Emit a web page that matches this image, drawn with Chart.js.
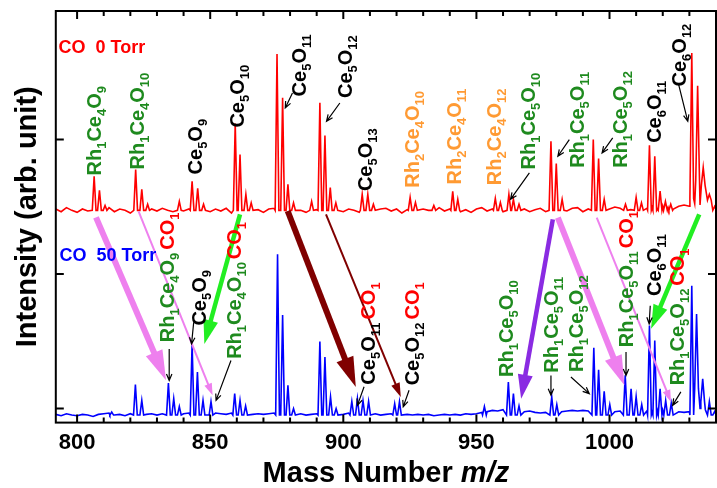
<!DOCTYPE html>
<html>
<head>
<meta charset="utf-8">
<script src="https://cdn.jsdelivr.net/npm/chart.js@4.4.0/dist/chart.umd.min.js"></script>
<style>
  html, body { margin: 0; padding: 0; background: #fff; }
  #wrap { width: 717px; height: 488px; }
</style>
</head>
<body>
<div id="wrap"><canvas id="spec"></canvas></div>
<script>
// axis ranges and ticks
const xMin = 792, xMax = 1040;
const yMin = -0.104, yMax = 2.956;
const xMajorTicks = [800, 850, 900, 950, 1000];
const xMinorTicks = [800, 810, 820, 830, 840, 850, 860, 870, 880, 890, 900, 910, 920, 930, 940, 950, 960, 970, 980, 990, 1000, 1010, 1020, 1030, 1040];
const yTicks = [0, 1, 2];

// baselines of both spectra, sampled every 2 mass units from 792
const baseStart = 792, baseStep = 2;
const redBase = 1.474, blueBase = -0.048;
const redNoise = [
  0.01, -0.01, 0.02, 0, -0.015, 0.01, -0.005, 0.015, -0.01, 0.005,
  0.02, -0.01, 0.01, 0, -0.02, 0.015, 0.005, -0.01, 0.01, -0.005,
  0.015, 0, -0.01, 0.02, -0.005, 0.01, -0.015, 0.005, 0.02, -0.01,
  0.01, -0.005, 0.015, -0.02, 0.01, 0, 0.02, -0.01, 0.005, -0.015,
  0.01, 0.015, -0.005, 0.01, -0.01, 0.02, 0, -0.015, 0.01, 0.005,
  -0.01, 0.015, -0.005, 0.02, -0.01, 0.01, 0, -0.015, 0.02, 0.005,
  -0.01, 0.01, 0.015, -0.005, 0.01, -0.02, 0.005, 0.015, -0.01, 0.01,
  0, -0.01, 0.02, -0.005, 0.01, 0.015, -0.01, 0.005, -0.015, 0.01,
  0.02, -0.005, 0.01, 0, -0.01, 0.015, -0.005, 0.02, 0.01, -0.01,
  0.005, 0.015, -0.01, 0.02, 0, 0.01, -0.005, 0.015, 0.02, -0.01,
  0.01, 0.005, -0.015, 0.02, 0.01, 0.025, 0.015, 0.02, 0.005, 0.01,
  -0.005, 0.015, 0.02, 0.01, 0.03, 0.02, 0.01, 0.03, 0.04, 0.03,
  0.05, 0.04, 0.03, 0.02, 0.01
];
const blueNoise = [
  0.005, -0.005, 0.01, 0, -0.005, 0.005, 0, -0.01, 0.005, 0.01,
  0.015, 0, 0.005, -0.005, 0.01, 0.01, 0, 0.005, 0.01, 0,
  0.01, 0.005, 0.015, 0.02, 0.01, 0.015, 0.02, 0.02, 0.025, 0.02,
  0.015, 0.01, 0.005, 0.015, 0.02, 0.015, 0.01, 0.005, 0.01, 0.005,
  0.01, 0.015, 0.02, 0.02, 0.01, 0.005, 0.01, 0, 0.005, 0.01,
  0.015, 0.01, 0.005, 0.01, 0.005, 0.015, 0.02, 0.01, 0.015, 0.005,
  0.01, 0, 0.005, 0.01, 0.015, 0.01, 0.005, 0, 0.005, 0,
  0.005, -0.005, 0, 0.005, 0, 0.005, 0, 0.01, 0.005, 0.01,
  0.02, 0.025, 0.035, 0.03, 0.04, 0.04, 0.03, 0.035, 0.025, 0.03,
  0.02, 0.015, 0.02, 0.025, 0.02, 0.025, 0.03, 0.035, 0.03, 0.035,
  0.03, 0.02, 0.025, 0.015, 0.02, 0.025, 0.03, 0.025, 0.03, 0.02,
  0.025, 0.03, 0.02, 0.03, 0.035, 0.03, 0.035, 0.025, 0.02, 0.025,
  0.04, 0.05, 0.04, 0.03, 0.02
];

// peaks: [mass, top, optional foot level]
const redPeaks = [
  [806.4, 1.728], [808.4, 1.622], [810.5, 1.51], [822.0, 1.778], [824.3, 1.63], [826.5, 1.52],
  [838.4, 1.541], [843.2, 1.689], [845.3, 1.637], [847.5, 1.52], [859.4, 2.119], [861.2, 1.889],
  [863.4, 1.593], [865.4, 1.53], [875.1, 2.637], [877.2, 2.311], [879.2, 1.667], [881.3, 1.53],
  [888.1, 1.541], [891.2, 2.274], [893.1, 2.03], [895.1, 1.644], [897.2, 1.53], [907.1, 1.593],
  [909.2, 1.593], [911.3, 1.52], [925.1, 1.57], [927.1, 1.533], [934.0, 1.51], [941.1, 1.615],
  [943.0, 1.556], [957.1, 1.563], [959.0, 1.533], [962.2, 1.593], [963.9, 1.556], [966.0, 1.52],
  [978.0, 1.987], [980.0, 1.822], [982.2, 1.556], [993.9, 2.0], [995.9, 1.859], [998.0, 1.556],
  [1006.0, 1.52], [1010.0, 1.57], [1012.0, 1.53], [1015.0, 1.958], [1017.0, 1.876], [1019.0, 1.617],
  [1021.0, 1.54], [1023.0, 1.52], [1030.9, 2.644, 1.56], [1033.1, 2.4, 1.70], [1035.2, 1.793, 1.66],
  [1037.5, 1.593, 1.55], [1039.5, 1.504]
];
const bluePeaks = [
  [813.0, -0.025], [821.9, 0.178], [824.3, 0.061], [834.3, 0.19], [836.3, 0.074], [838.4, 0.015],
  [843.2, 0.481], [845.2, 0.272], [847.3, 0.061], [850.3, 0.052], [859.2, 0.111], [861.2, 0.061],
  [863.3, 0.02], [875.3, 1.148], [877.2, 0.696], [879.2, 0.173], [881.3, 0.0], [891.2, 0.499],
  [893.1, 0.383], [895.2, 0.087], [897.3, 0.0], [903.2, 0.054], [905.3, 0.074], [907.4, 0.059],
  [909.5, 0.054], [919.3, 0.037], [921.1, 0.052], [953.0, 0.015], [962.0, 0.198], [963.9, 0.111],
  [966.0, 0.02], [978.3, 0.087], [980.2, 0.03], [994.1, 0.452], [995.9, 0.289], [998.0, 0.128],
  [1000.1, 0.03], [1005.9, 0.247], [1008.1, 0.148], [1010.0, 0.089], [1012.1, 0.03], [1015.0, 0.617],
  [1017.0, 0.506], [1019.0, 0.148], [1021.1, 0.06], [1023.2, 0.04], [1030.9, 0.913],
  [1032.7, 0.704, 0.15], [1035.0, 0.222, 0.05], [1037.5, 0.052], [1039.5, -0.022]
];

// panel captions: [text, colour key, mass, intensity]
const panelTitles = [
  ['CO  0 Torr', 'red', 793.0, 2.644],
  ['CO  50 Torr', 'blue', 793.4, 1.096]
];

// peak assignments: [formula, colour key, mass, intensity, optional red suffix]
const peakLabels = [
  ['Rh_1Ce_4O_9', 'green', 809.1, 1.733],
  ['Rh_1Ce_4O_10', 'green', 825.3, 1.778],
  ['Ce_5O_9', 'black', 847.0, 1.741],
  ['Ce_5O_10', 'black', 862.8, 2.089],
  ['Ce_5O_11', 'black', 886.0, 2.321],
  ['Ce_5O_12', 'black', 903.2, 2.309],
  ['Ce_5O_13', 'black', 910.8, 1.617],
  ['Rh_2Ce_4O_10', 'orange', 928.6, 1.642],
  ['Rh_2Ce_4O_11', 'orange', 944.3, 1.667],
  ['Rh_2Ce_4O_12', 'orange', 959.3, 1.661],
  ['Rh_1Ce_5O_10', 'green', 972.0, 1.778],
  ['Rh_1Ce_5O_11', 'green', 990.5, 1.790],
  ['Rh_1Ce_5O_12', 'green', 1006.5, 1.790],
  ['Ce_6O_11', 'black', 1019.3, 1.976],
  ['Ce_6O_12', 'black', 1028.7, 2.395],
  ['Rh_1Ce_4O_9', 'green', 836.5, 0.494, 'CO_1'],
  ['Ce_5O_9', 'black', 848.4, 0.617],
  ['Rh_1Ce_4O_10', 'green', 861.6, 0.370, 'CO_1'],
  ['Ce_5O_11', 'black', 912.0, 0.178, 'CO_1'],
  ['Ce_5O_12', 'black', 928.5, 0.173, 'CO_1'],
  ['Rh_1Ce_5O_10', 'green', 963.7, 0.235],
  ['Rh_1Ce_5O_11', 'green', 980.6, 0.267],
  ['Rh_1Ce_5O_12', 'green', 989.9, 0.272],
  ['Rh_1Ce_5O_11', 'green', 1008.7, 0.457, 'CO_1'],
  ['Ce_6O_11', 'black', 1019.3, 0.837],
  ['Rh_1Ce_5O_12', 'green', 1028.0, 0.173, 'CO_1']
];

// small black pointers: [mass from, int from, mass to, int to]
const pointers = [
  [880.9, 2.346, 878.2, 2.235], [898.7, 2.272, 893.7, 2.136], [969.9, 1.753, 962.8, 1.556],
  [984.9, 2.0, 980.6, 1.876], [1001.2, 2.013, 997.2, 1.901], [1026.0, 2.407, 1029.4, 2.136],
  [834.6, 0.444, 834.6, 0.210], [843.8, 0.642, 843.0, 0.481], [857.8, 0.358, 852.2, 0.061],
  [907.8, 0.163, 905.3, 0.024], [924.7, 0.136, 922.5, 0.013], [978.0, 0.247, 978.0, 0.099],
  [985.5, 0.235, 992.4, 0.111], [1006.2, 0.420, 1006.2, 0.247], [1015.3, 0.765, 1014.9, 0.630],
  [1026.8, 0.124, 1023.7, 0.024]
];

// big coloured arrows between the spectra: [mass from, int from, mass to, int to, style]
const shiftArrows = [
  [807.1, 1.422, 833.4, 0.210, 'pinkThick'],
  [823.1, 1.467, 850.9, 0.099, 'pinkThin'],
  [861.2, 1.444, 847.8, 0.481, 'green'],
  [879.1, 1.469, 904.7, 0.161, 'darkThick'],
  [893.5, 1.444, 921.6, 0.087, 'darkThin'],
  [978.7, 1.407, 966.8, 0.074, 'purple'],
  [980.6, 1.420, 1005.6, 0.173, 'pinkThick'],
  [995.2, 1.420, 1023.1, 0.050, 'pinkThin'],
  [1033.7, 1.444, 1015.6, 0.593, 'green']
];

const colors = { red: '#ff0000', blue: '#0000ff', green: '#1e8a1e', orange: '#ff9a33', black: '#000000' };
const arrowStyles = {
  pinkThick: { color: '#ee80ee', width: 6, head: 30, headW: 18 },
  pinkThin: { color: '#ee80ee', width: 2, head: 12, headW: 8 },
  green: { color: '#22ee22', width: 4.5, head: 24, headW: 15 },
  darkThick: { color: '#800000', width: 6, head: 30, headW: 18 },
  darkThin: { color: '#800000', width: 2, head: 14, headW: 9 },
  purple: { color: '#8a2be2', width: 4.5, head: 24, headW: 15 }
};
const FONT = "'Liberation Sans', Arial, sans-serif";

// join baseline samples and peak spikes into one sorted line
function buildTrace(base, noise, peaks) {
  const pts = [];
  noise.forEach((n, i) => {
    const m = baseStart + i * baseStep;
    if (!peaks.some(p => Math.abs(p[0] - m) < 0.9)) pts.push({ x: m, y: base + n });
  });
  peaks.forEach(p => {
    const foot = p.length > 2 ? p[2] : base;
    pts.push({ x: p[0] - 0.7, y: foot }, { x: p[0], y: p[1] }, { x: p[0] + 0.7, y: foot });
  });
  return pts.sort((a, b) => a.x - b.x);
}

function drawFormula(ctx, x, y, parts) {
  ctx.save();
  ctx.translate(x, y);
  ctx.rotate(-Math.PI / 2);
  ctx.textBaseline = 'alphabetic';
  ctx.textAlign = 'left';
  let cx = 0;
  parts.forEach(([txt, color], k) => {
    if (k > 0) cx += 3;
    ctx.fillStyle = color;
    txt.match(/_\d+|[^_]+/g).forEach(tok => {
      if (tok[0] === '_') {
        ctx.font = 'bold 13px ' + FONT;
        ctx.fillText(tok.slice(1), cx, 5);
        cx += ctx.measureText(tok.slice(1)).width;
      } else {
        ctx.font = 'bold 20px ' + FONT;
        ctx.fillText(tok, cx, 0);
        cx += ctx.measureText(tok).width;
      }
    });
  });
  ctx.restore();
}

function drawPointer(ctx, x1, y1, x2, y2) {
  const a = Math.atan2(y2 - y1, x2 - x1);
  ctx.save();
  ctx.strokeStyle = '#000';
  ctx.lineWidth = 1.2;
  ctx.beginPath();
  ctx.moveTo(x1, y1);
  ctx.lineTo(x2, y2);
  ctx.moveTo(x2 - 7 * Math.cos(a - 0.4), y2 - 7 * Math.sin(a - 0.4));
  ctx.lineTo(x2, y2);
  ctx.lineTo(x2 - 7 * Math.cos(a + 0.4), y2 - 7 * Math.sin(a + 0.4));
  ctx.stroke();
  ctx.restore();
}

function drawShift(ctx, x1, y1, x2, y2, st) {
  const dx = x2 - x1, dy = y2 - y1, len = Math.hypot(dx, dy);
  const ux = dx / len, uy = dy / len;
  const bx = x2 - ux * st.head, by = y2 - uy * st.head;
  ctx.save();
  ctx.strokeStyle = st.color;
  ctx.fillStyle = st.color;
  ctx.lineWidth = st.width;
  ctx.beginPath();
  ctx.moveTo(x1, y1);
  ctx.lineTo(bx + ux, by + uy);
  ctx.stroke();
  ctx.beginPath();
  ctx.moveTo(x2, y2);
  ctx.lineTo(bx - uy * st.headW / 2, by + ux * st.headW / 2);
  ctx.lineTo(bx + uy * st.headW / 2, by - ux * st.headW / 2);
  ctx.closePath();
  ctx.fill();
  ctx.restore();
}

const overlay = {
  id: 'overlay',
  afterDatasetsDraw(chart) {
    const ctx = chart.ctx, xs = chart.scales.x, ys = chart.scales.y, area = chart.chartArea;
    const X = v => xs.getPixelForValue(v), Y = v => ys.getPixelForValue(v);

    shiftArrows.forEach(a => drawShift(ctx, X(a[0]), Y(a[1]), X(a[2]), Y(a[3]), arrowStyles[a[4]]));
    pointers.forEach(p => drawPointer(ctx, X(p[0]), Y(p[1]), X(p[2]), Y(p[3])));
    peakLabels.forEach(l => {
      const parts = [[l[0], colors[l[1]]]];
      if (l[4]) parts.push([l[4], colors.red]);
      drawFormula(ctx, X(l[2]), Y(l[3]), parts);
    });

    ctx.save();
    ctx.font = 'bold 18px ' + FONT;
    ctx.textBaseline = 'alphabetic';
    panelTitles.forEach(t => {
      ctx.fillStyle = colors[t[1]];
      ctx.fillText(t[0], X(t[2]), Y(t[3]));
    });
    ctx.restore();

    // frame and inward ticks
    ctx.save();
    ctx.strokeStyle = '#000';
    ctx.lineWidth = 2;
    ctx.strokeRect(area.left, area.top, area.right - area.left, area.bottom - area.top);
    ctx.beginPath();
    xMinorTicks.forEach(v => {
      const x = X(v);
      if (x < area.left || x > area.right) return;
      const len = xMajorTicks.includes(v) ? 8 : 5;
      ctx.moveTo(x, area.bottom); ctx.lineTo(x, area.bottom - len);
      ctx.moveTo(x, area.top); ctx.lineTo(x, area.top + len);
    });
    yTicks.forEach(v => {
      const y = Y(v);
      ctx.moveTo(area.left, y); ctx.lineTo(area.left + 8, y);
      ctx.moveTo(area.right, y); ctx.lineTo(area.right - 8, y);
    });
    ctx.stroke();

    // x axis title with italic m/z
    ctx.fillStyle = '#000';
    ctx.textBaseline = 'alphabetic';
    const t1 = 'Mass Number ', t2 = 'm/z';
    ctx.font = 'bold 29px ' + FONT;
    const w1 = ctx.measureText(t1).width;
    ctx.font = 'italic bold 29px ' + FONT;
    const w2 = ctx.measureText(t2).width;
    const sx = (area.left + area.right) / 2 - (w1 + w2) / 2, by = area.bottom + 59;
    ctx.font = 'bold 29px ' + FONT;
    ctx.fillText(t1, sx, by);
    ctx.font = 'italic bold 29px ' + FONT;
    ctx.fillText(t2, sx + w1, by);
    ctx.restore();
  }
};

new Chart(document.getElementById('spec'), {
  type: 'line',
  data: {
    datasets: [
      { label: 'CO 0 Torr', data: buildTrace(redBase, redNoise, redPeaks), borderColor: '#ff0000', borderWidth: 1.6, pointRadius: 0, tension: 0 },
      { label: 'CO 50 Torr', data: buildTrace(blueBase, blueNoise, bluePeaks), borderColor: '#0000ff', borderWidth: 1.6, pointRadius: 0, tension: 0 }
    ]
  },
  options: {
    responsive: true,
    maintainAspectRatio: false,
    animation: false,
    devicePixelRatio: 1,
    layout: { padding: { left: 11, right: 1, top: 11, bottom: 25 } },
    plugins: { legend: { display: false }, tooltip: { enabled: false } },
    scales: {
      x: {
        type: 'linear', min: xMin, max: xMax,
        afterBuildTicks: s => { s.ticks = xMajorTicks.map(v => ({ value: v })); },
        grid: { display: false, drawTicks: false },
        border: { display: false },
        ticks: { color: '#000', font: { family: FONT, size: 22, weight: 'bold' }, padding: 7, maxRotation: 0, callback: v => String(v) }
      },
      y: {
        min: yMin, max: yMax,
        grid: { display: false, drawTicks: false },
        border: { display: false },
        ticks: { display: false },
        title: { display: true, text: 'Intensity (arb. unit)', color: '#000', font: { family: FONT, size: 29, weight: 'bold' }, padding: { top: 0, bottom: 10 } }
      }
    }
  },
  plugins: [overlay]
});
</script>
</body>
</html>
